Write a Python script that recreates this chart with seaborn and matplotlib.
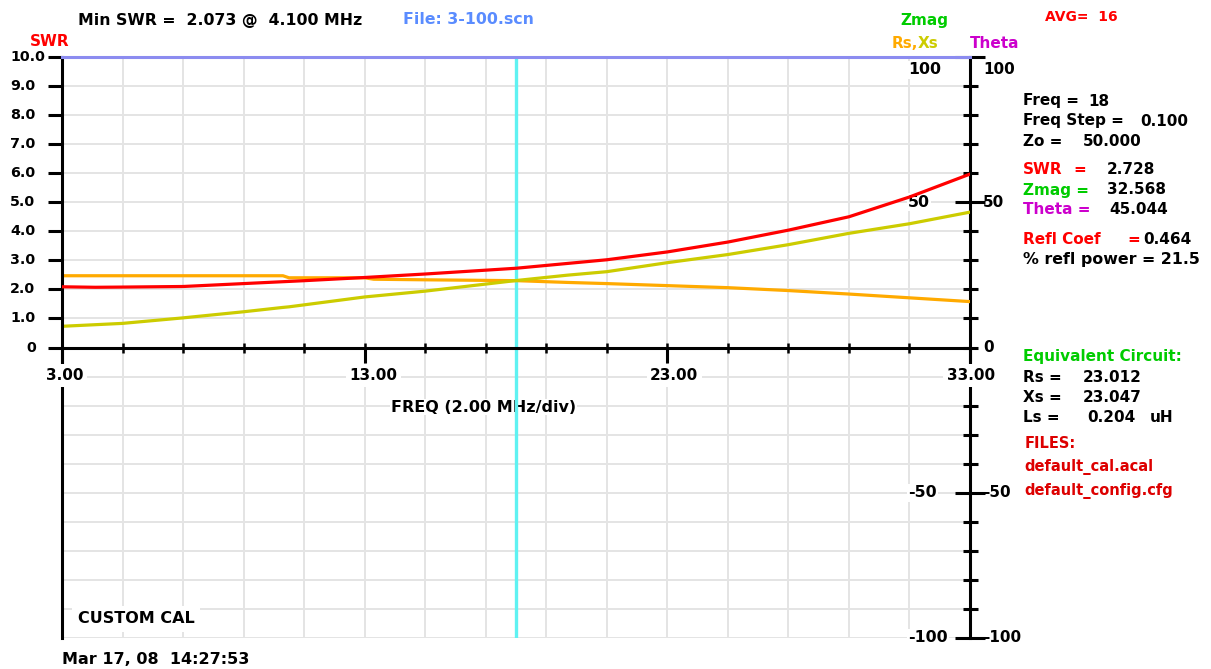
import matplotlib
matplotlib.use("Agg")
import matplotlib.pyplot as plt
import numpy as np
import pandas as pd
import seaborn as sns
from matplotlib.transforms import ScaledTranslation

# ---------------------------------------------------------------- sweep data
swr_freq = [3, 4.1, 5, 7, 9, 11, 13, 15, 18, 21, 23, 25, 27, 29, 31, 33]
swr_vals = [2.09, 2.073, 2.08, 2.10, 2.20, 2.30, 2.41, 2.53, 2.728,
            3.02, 3.29, 3.63, 4.04, 4.50, 5.18, 5.97]

z_freq = [3, 5, 7, 9, 10.3, 10.5, 13, 13.3, 15, 18, 19.7, 21, 23, 25, 27, 29, 31, 33]
rs_vals = [24.7, 24.7, 24.7, 24.7, 24.7, 24.0, 24.0, 23.5, 23.3, 23.012,
           22.4, 22.0, 21.3, 20.6, 19.6, 18.4, 17.1, 15.8]
xs_vals = [7.3, 8.3, 10.2, 12.3, 13.8, 14.0, 17.4, 17.7, 19.4, 23.047,
           24.9, 26.1, 29.2, 32.0, 35.4, 39.3, 42.6, 46.6]

cursor_freq = 18

freq_major = [3, 13, 23, 33]
freq_major_labels = ["3.00", "13.00", "23.00", "33.00"]
swr_ticks = [0, 1, 2, 3, 4, 5, 6, 7, 8, 9, 10]
swr_tick_labels = ["0", "1.0", "2.0", "3.0", "4.0", "5.0", "6.0", "7.0", "8.0", "9.0", "10.0"]
z_major = [-100, -50, 50, 100]
z_inner_labels = ["-100", "-50", "50", "100"]
theta_ticks = [-100, -50, 0, 50, 100]
theta_labels = ["-100", "-50", "0", "50", "100"]

# ---------------------------------------------------------------- style
sns.set_style("white")
plt.rcParams["font.family"] = ["DejaVu Sans"]
plt.rcParams["font.weight"] = "bold"
plt.rcParams["font.size"] = 10
plt.rcParams["text.color"] = "black"

RED = "#ff0000"
ORANGE = "#ffaa00"
OLIVE = "#cccc00"
GREEN = "#00cc00"
MAGENTA = "#cc00cc"
GRID = "#e4e4e4"
TXT = 11

W, H = 1211, 669
L, R, T, B = 62, 970, 57, 638          # plot frame in pixels
fig = plt.figure(figsize=(W / 100, H / 100), dpi=100)
fig.patch.set_facecolor("white")

ax = fig.add_axes([L / W, 1 - B / H, (R - L) / W, (B - T) / H])   # SWR scale
ax2 = ax.twinx()                                                   # Rs / Xs / Theta scale
ax.set_zorder(2)
ax2.set_zorder(1)
ax.patch.set_visible(False)
ax2.patch.set_visible(True)
ax2.patch.set_facecolor("white")

ax.set_xlim(3, 33)
ax.set_ylim(-10, 10)
ax2.set_ylim(-100, 100)


def px(dx=0, dy=0):
    """Offset in pixels (dy positive upward)."""
    return ScaledTranslation(dx / 100, dy / 100, fig.dpi_scale_trans)


def ax_frac(xpix):
    return (xpix - L) / (R - L)


# grid
grid_freqs = np.arange(3, 34, 2)
for f in grid_freqs:
    ax2.axvline(f, color=GRID, lw=1.4, zorder=0.5)
for v in range(-100, 101, 10):
    ax2.axhline(v, color=GRID, lw=1.4, zorder=0.5)

# cursor
ax2.axvline(cursor_freq, color="#5ff2f2", lw=2.4, zorder=1)

# traces
df_z = pd.DataFrame({"freq": z_freq, "Rs": rs_vals, "Xs": xs_vals})
df_swr = pd.DataFrame({"freq": swr_freq, "SWR": swr_vals})
sns.lineplot(data=df_z, x="freq", y="Rs", ax=ax2, color=ORANGE, lw=2.3, zorder=4)
sns.lineplot(data=df_z, x="freq", y="Xs", ax=ax2, color=OLIVE, lw=2.3, zorder=4)
sns.lineplot(data=df_swr, x="freq", y="SWR", ax=ax, color=RED, lw=2.3, zorder=4)
for a in (ax, ax2):
    a.set_xlabel("")
    a.set_ylabel("")

# frame
for name, sp in ax.spines.items():
    sp.set_linewidth(2.2)
    sp.set_color("black")
ax.spines["right"].set_visible(False)
ax.spines["bottom"].set_position(("data", 0))
ax.spines["top"].set_color("#8c8cf0")
for name, sp in ax2.spines.items():
    sp.set_visible(name == "right")
ax2.spines["right"].set_linewidth(2.2)
ax2.spines["right"].set_color("black")

# SWR ticks
ax.set_yticks(swr_ticks)
ax.tick_params(axis="y", direction="out", length=10, width=2.2, color="black",
               left=True, right=False, labelleft=False)
# frequency ticks
ax.set_xticks(freq_major)
ax.set_xticks(grid_freqs, minor=True)
ax.xaxis.remove_overlapping_locs = False
ax.tick_params(axis="x", which="major", direction="out", length=11, width=2.2,
               color="black", bottom=True, top=False, labelbottom=False)
ax.tick_params(axis="x", which="minor", direction="inout", length=7, width=1.8,
               color="black", bottom=True, top=False)
# impedance / theta ticks
ax2.set_yticks(z_major)
ax2.set_yticks(range(-100, 101, 10), minor=True)
ax2.tick_params(axis="y", which="major", direction="inout", length=21.5, width=2.2,
                color="black", right=True, left=False, labelright=False)
ax2.tick_params(axis="y", which="minor", direction="inout", length=10.8, width=2.2,
                color="black", right=True, left=False)
ax2.tick_params(axis="x", bottom=False, top=False, labelbottom=False)

# SWR tick labels
ytr = ax.get_yaxis_transform()
for v, s in zip(swr_ticks, swr_tick_labels):
    xp = 26 if s == "0" else 10
    ax.text(ax_frac(xp), v, s, transform=ytr, ha="left", va="center",
            size=10.3, clip_on=False)

# frequency tick labels (white backing breaks the frame lines)
x_shift = {"3.00": 3, "13.00": 9, "23.00": 7, "33.00": 1}
for f, s in zip(freq_major, freq_major_labels):
    ax.text(f, 0, s, transform=ax.transData + px(x_shift[s], -28), ha="center",
            va="center", size=11, zorder=10, clip_on=False,
            bbox=dict(facecolor="white", edgecolor="none", pad=2.5))

# impedance labels inside the frame, theta labels outside
ytr2 = ax2.get_yaxis_transform()
for v, s in zip(z_major, z_inner_labels):
    dy = -13 if v == 100 else 0
    ax2.text(ax_frac(908), v, s, transform=ytr2 + px(0, dy), ha="left", va="center",
             size=11.3, zorder=3,
             bbox=dict(facecolor="white", edgecolor="none", pad=1.0))
for v, s in zip(theta_ticks, theta_labels):
    dy = -13 if v == 100 else 0
    ax2.text(ax_frac(983), v, s, transform=ytr2 + px(0, dy), ha="left", va="center",
             size=11, clip_on=False)

ax2.text(ax_frac(391), -20.5, "FREQ (2.00 MHz/div)", transform=ytr2,
         ha="left", va="center", size=11.5, zorder=0.8,
         bbox=dict(facecolor="white", edgecolor="none", pad=0.5))

ax2.text(ax_frac(78), -93.4, "CUSTOM CAL", transform=ytr2,
         ha="left", va="center", size=11.5, zorder=3,
         bbox=dict(facecolor="white", edgecolor="none", pad=4))


# ---------------------------------------------------------------- annotations
def put(xp, yp, s, color="black", size=TXT, **kw):
    fig.text(xp / W, 1 - yp / H, s, color=color, size=size, ha="left", va="center", **kw)


put(78, 20, "Min SWR =  2.073 @  4.100 MHz", size=11.3)
put(403, 20, "File: 3-100.scn", color="#5a8cff", size=11.3)
put(900, 20, "Zmag", color=GREEN)
put(1045, 17, "AVG=  16", color=RED, size=10)
put(30, 42, "SWR", color=RED)
put(892, 44, "Rs,", color=ORANGE)
put(918, 44, "Xs", color=OLIVE)
put(970, 43, "Theta", color=MAGENTA)

put(1023, 101, "Freq =")
put(1088, 101, "18")
put(1023, 121, "Freq Step =")
put(1140, 121, "0.100")
put(1023, 141, "Zo =")
put(1083, 141, "50.000")

put(1023, 170, "SWR", color=RED)
put(1073, 170, "=", color=RED)
put(1107, 170, "2.728")
put(1023, 190, "Zmag =", color=GREEN)
put(1107, 190, "32.568")
put(1023, 210, "Theta =", color=MAGENTA)
put(1109, 210, "45.044")
put(1023, 239, "Refl Coef", color=RED)
put(1127, 239, "=", color=RED)
put(1143, 239, "0.464")
put(1023, 259, "% refl power = 21.5", size=11.4)

put(1023, 356, "Equivalent Circuit:", color=GREEN)
put(1023, 377, "Rs =")
put(1083, 377, "23.012")
put(1023, 397, "Xs =")
put(1083, 397, "23.047")
put(1023, 417, "Ls =")
put(1087, 417, "0.204")
put(1150, 417, "uH")
put(1025, 443, "FILES:", color="#dd0000", size=10.5)
put(1024, 467, "default_cal.acal", color="#dd0000", size=10.5)
put(1024, 491, "default_config.cfg", color="#dd0000", size=10.5)

put(62, 659, "Mar 17, 08  14:27:53", size=11.5)

fig.savefig("out.png", dpi=100, facecolor="white")
